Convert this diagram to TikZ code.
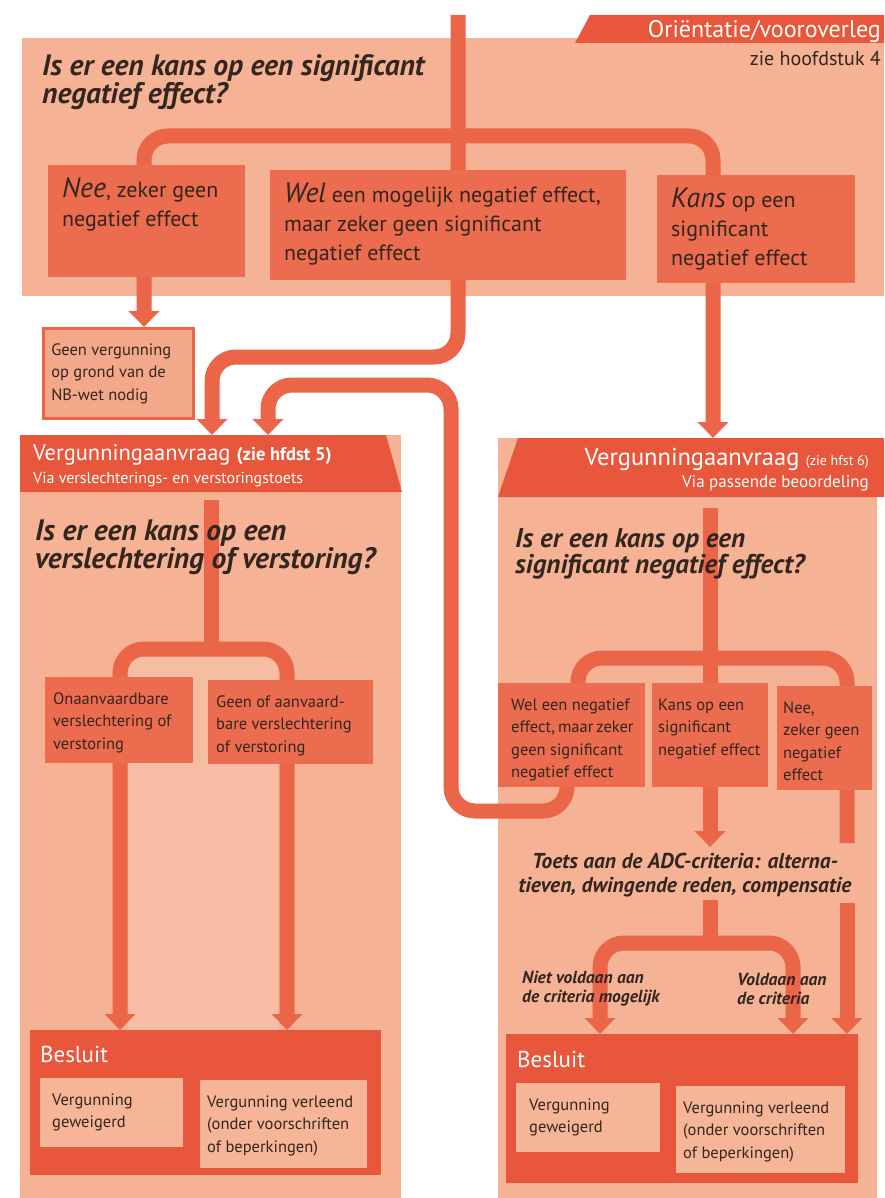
\documentclass[tikz,border=0pt]{standalone}
\usepackage{fontspec}
\setmainfont{PT Sans}
\usetikzlibrary{arrows.meta,positioning}

\definecolor{panelfill}{HTML}{F6B295}
\definecolor{bandfill}{HTML}{E8573B}
\definecolor{boxfill}{HTML}{EC6C4F}
\definecolor{flowcol}{HTML}{EB6548}
\definecolor{patchfill}{HTML}{F6BCA4}
\definecolor{innerfill}{HTML}{F6B597}
\definecolor{inkdark}{HTML}{33261F}

\pgfdeclarelayer{panel}
\pgfdeclarelayer{lines}
\pgfsetlayers{panel,lines,main}

\begin{document}
\begin{tikzpicture}[
  x=1pt,y=-1pt,
  question/.style={anchor=base west,inner sep=0pt,align=flush left,text width=440pt,text=inkdark,font=\fontsize{29.5}{28}\selectfont\bfseries\itshape},
  optbox/.style={fill=boxfill,text=inkdark,anchor=north west,align=flush left,inner xsep=14pt,inner ysep=0pt,text height=32pt,font=\fontsize{22}{29}\selectfont},
  smallbox/.style={fill=boxfill,text=inkdark,anchor=north west,align=flush left,inner xsep=8pt,inner ysep=0pt,text height=27pt,font=\fontsize{16.5}{22.5}\selectfont},
  endbox/.style={smallbox,fill=innerfill},
  besluit/.style={fill=bandfill,text=white,anchor=north west,align=flush left,inner xsep=10pt,inner ysep=0pt,text height=32pt,font=\fontsize{23}{25}\selectfont},
  bandtext/.style={inner sep=0pt,text=white},
  crit/.style={anchor=base west,inner sep=0pt,align=flush left,text width=200pt,text=inkdark,font=\fontsize{17.5}{19}\selectfont\bfseries\itshape},
  flow/.style={draw=flowcol,line width=15pt,rounded corners=24pt},
  arr/.style={flow,-{Triangle[width=30pt,length=16pt]}},
  twoarr/.style={flow,{Triangle[width=30pt,length=16pt]}-{Triangle[width=30pt,length=16pt]}}
]
\useasboundingbox (0,0) rectangle (884,1198);

% Orientatie / vooroverleg
\node[bandtext,anchor=base east,font=\fontsize{24}{26}\selectfont] (tab) at (881,38) {Oriëntatie/vooroverleg};
\node[anchor=base east,inner sep=0pt,text=inkdark,font=\fontsize{20}{22}\selectfont] (hfd4) at (881,66) {zie hoofdstuk 4};
\node[question] (qtop) at (42,76) {Is er een kans op een significant\\ negatief effect?};
\node[optbox,text width=169pt,text depth=80pt] (neetop) at (48,165) {{\fontsize{28}{29}\selectfont\itshape Nee},~zeker~geen\\ negatief effect};
\node[optbox,text width=328pt,text depth=78pt] (weltop) at (270,170) {{\fontsize{28}{29}\selectfont\itshape Wel} een~mogelijk~negatief~effect,\\ maar~zeker~geen~significant\\ negatief effect};
\node[optbox,text width=170pt,text depth=76pt] (kanstop) at (657,175) {{\fontsize{28}{29}\selectfont\itshape Kans} op een\\ significant\\ negatief~effect};
\node[smallbox,fill=panelfill!85!boxfill,draw=flowcol,line width=2.5pt,text width=134pt,text depth=63pt] (geenverg) at (42,327) {Geen~vergunning\\ op~grond~van~de\\ NB-wet nodig};

% verslechterings- en verstoringstoets
\node[bandtext,anchor=base west,align=flush left,text width=370pt,font=\fontsize{22.5}{23}\selectfont] (lhead) at (33,460) {Vergunningaanvraag {\fontsize{18.5}{23}\selectfont\bfseries (zie hfdst 5)}\\ {\fontsize{16}{23}\selectfont Via verslechterings- en verstoringstoets}};
\node[question] (lq) at (35,540) {Is er een kans op een\\ verslechtering of verstoring?};
\node[smallbox,text width=132pt,text depth=59pt] (lonaan) at (45,677) {Onaanvaardbare\\ verslechtering~of\\ verstoring};
\node[smallbox,text width=149pt,text depth=57pt] (lgeen) at (208,680) {Geen of aanvaard-\\ bare~verslechtering\\ of verstoring};
\node[besluit,text width=331pt,text depth=113pt] (lbesl) at (30,1030) {Besluit};
\node[endbox,inner xsep=12pt,text width=119pt,text depth=42pt] (lweig) at (40,1078) {Vergunning\\ geweigerd};
\node[endbox,inner xsep=7pt,text width=153pt,text depth=61pt] (lverl) at (200,1080) {Vergunning~verleend\\ (onder~voorschriften\\ of beperkingen)};

% passende beoordeling
\node[bandtext,anchor=base east,align=flush right,text width=360pt,font=\fontsize{24.5}{22}\selectfont] (rhead) at (869,465) {Vergunningaanvraag {\fontsize{14}{22}\selectfont (zie hfst 6)}\\ {\fontsize{17}{22}\selectfont Via passende beoordeling}};
\node[question,font=\fontsize{27}{26}\selectfont\bfseries\itshape] (rq) at (515,547) {Is er een kans op een\\ significant negatief effect?};
\node[smallbox,inner xsep=13pt,text width=121pt,text depth=77pt] (rwel) at (498,683) {Wel~een~negatief\\ effect,~maar~zeker\\ geen~significant\\ negatief~effect};
\node[smallbox,inner xsep=6pt,text width=104pt,text depth=77pt] (rkans) at (652,683) {Kans~op~een\\ significant\\ negatief~effect};
\node[smallbox,inner xsep=6pt,text width=83pt,text depth=77pt] (rnee) at (777,686) {Nee,\\ zeker~geen\\ negatief\\ effect};
\node[anchor=base,inner sep=0pt,align=flush center,text width=400pt,text=inkdark,font=\fontsize{21.5}{24}\selectfont\bfseries\itshape] (toets) at (685,868) {Toets aan de ADC-criteria: alterna-\\ tieven, dwingende reden, compensatie};
\node[crit] (nietv) at (522,983) {Niet voldaan aan\\ de criteria mogelijk};
\node[crit] (voldaan) at (737,985) {Voldaan aan\\ de criteria};
\node[besluit,inner xsep=11pt,text height=33pt,text width=330pt,text depth=116pt] (rbesl) at (506,1034) {Besluit};
\node[endbox,inner xsep=13pt,text width=118pt,text depth=42pt] (rweig) at (516,1083) {Vergunning\\ geweigerd};
\node[endbox,inner xsep=7pt,text width=155pt,text depth=60pt] (rverl) at (676,1086) {Vergunning~verleend\\ (onder~voorschriften\\ of beperkingen)};

\coordinate (entry) at (458,15);
\coordinate (wbend) at (458,357);
\coordinate (topL) at (144,136);
\coordinate (topR) at (713,136);
\coordinate (rin) at (713,438);
\coordinate (lin1) at (212,435);
\coordinate (lin2) at (268,435);
\coordinate (loopout) at (567,760);
\coordinate (loopbot) at (451,811);
\coordinate (looptop) at (451,385);
\coordinate (lstem) at (211,500);
\coordinate (lforkL) at (120,649);
\coordinate (lforkR) at (287,649);
\coordinate (rstem) at (710,508);
\coordinate (rforkL) at (578,658);
\coordinate (rforkR) at (847,658);
\coordinate (rneestop) at (847,843);
\coordinate (toetsin) at (710,847);
\coordinate (rneeout) at (847,903);
\coordinate (adcstem) at (710,900);
\coordinate (adcL) at (600,943);
\coordinate (adcR) at (793,943);

\begin{pgfonlayer}{lines}
\draw[twoarr] (geenverg.north -| topL) -- (topL) -- (topR) -- (rin);
\draw[arr] (entry) -- (wbend) -- (lin1 |- wbend) -- (lin1);
\draw[arr] (loopout) -- (loopout |- loopbot) -- (loopbot) -- (looptop) -- (lin2 |- looptop) -- (lin2);
\draw[flow] (lstem) -- (lstem |- lforkL);
\draw[twoarr] (lbesl.north -| lforkL) -- (lforkL) -- (lforkR) -- (lbesl.north -| lforkR);
\draw[flow] (rforkL |- rwel.center) -- (rforkL) -- (rforkR) -- (rneestop);
\draw[arr] (rstem) -- (toetsin);
\draw[arr] (rneeout) -- (rbesl.north -| rneeout);
\draw[flow] (adcstem) -- (adcstem |- adcL);
\draw[twoarr] (rbesl.north -| adcL) -- (adcL) -- (adcR) -- (rbesl.north -| adcR);
\end{pgfonlayer}

\begin{pgfonlayer}{panel}
\fill[white] (0,0) rectangle (884,1198);
\fill[panelfill] (22,38) rectangle (884,296);
\fill[bandfill] (575,43) -- (590,15) -- (884,15) -- (884,43) -- cycle;
\fill[panelfill] (20,435) rectangle (401,1198);
\fill[bandfill] (20,435) -- (386,435) -- (402,492) -- (20,492) -- cycle;
\fill[patchfill] (128,657) rectangle (278,1030);
\fill[panelfill] (498,438) rectangle (877,1198);
\fill[bandfill] (518,438) -- (884,438) -- (884,497) -- (498,497) -- cycle;
\end{pgfonlayer}
\end{tikzpicture}
\end{document}
